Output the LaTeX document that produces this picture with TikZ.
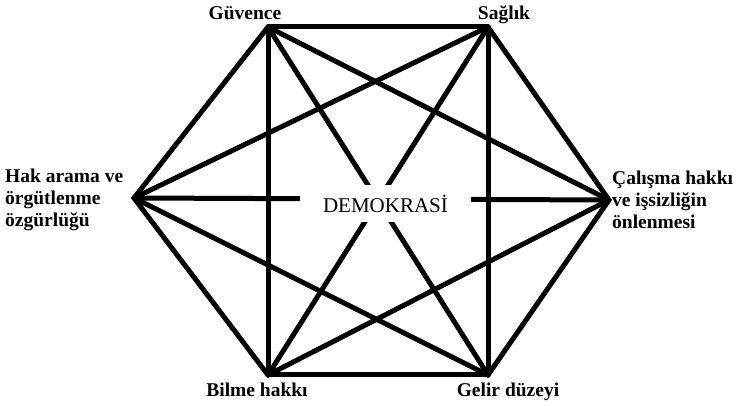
\documentclass[tikz,border=0pt]{standalone}
\usepackage{fontspec}
\setmainfont{Liberation Serif}
\begin{document}
\begin{tikzpicture}[x=1pt,y=-1pt,
  edge/.style={line width=5pt,line cap=round,line join=round},
  lbl/.style={font=\bfseries\fontsize{19.5}{22}\selectfont,inner sep=0pt},
  center/.style={fill=white,minimum width=171pt,minimum height=37pt,inner sep=0pt,font=\fontsize{21}{22}\selectfont}]
\useasboundingbox (0,0) rectangle (740,406);
\coordinate (G) at (268,27);
\coordinate (S) at (488,27);
\coordinate (R) at (609,200);
\coordinate (Ge) at (488,375);
\coordinate (B) at (268,375);
\coordinate (L) at (134,198);
\foreach \a/\b in {G/S,G/R,G/Ge,G/B,G/L,S/R,S/Ge,S/B,S/L,R/Ge,R/B,R/L,Ge/B,Ge/L,B/L}
  \draw[edge] (\a) -- (\b);
\node[center] (D) at (385.5,203.5) {DEMOKRASİ};
\node[lbl,anchor=base] (tG) at (245,20) {Güvence};
\node[lbl,anchor=base] (tS) at (504,20) {Sağlık};
\node[lbl,anchor=base] (tB) at (257,397) {Bilme hakkı};
\node[lbl,anchor=base] (tGe) at (508,397) {Gelir düzeyi};
\node[lbl,anchor=west,align=left] (tL) at (5,200) {Hak arama ve\\örgütlenme\\özgürlüğü};
\node[lbl,anchor=west,align=left] (tR) at (612,200) {Çalışma hakkı\\ve işsizliğin\\önlenmesi};
\end{tikzpicture}
\end{document}
